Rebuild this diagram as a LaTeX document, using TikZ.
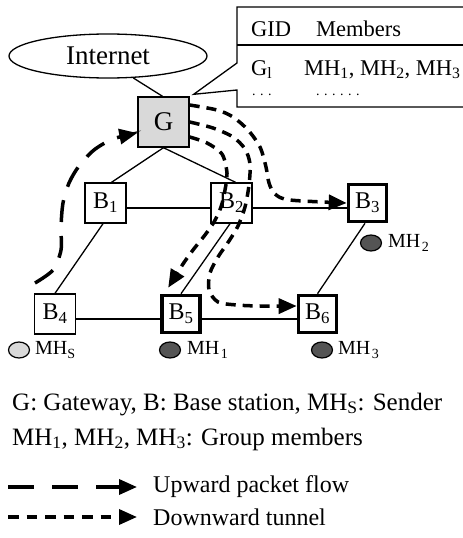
\documentclass[tikz,border=0pt]{standalone}
\usepackage{fontspec}
\setmainfont{Liberation Serif}
\usetikzlibrary{arrows.meta,shapes.geometric,calc}
\begin{document}
\begin{tikzpicture}[x=1pt,y=-1pt,
  bs/.style={draw,line width=1.4pt,minimum width=41pt,minimum height=40pt,inner sep=0pt,font=\fontsize{24}{24}\selectfont},
  bst/.style={bs,line width=3.6pt,minimum width=38pt,minimum height=37pt},
  link/.style={line width=1.3pt},
  upflow/.style={line width=3.5pt,dash pattern=on 22pt off 14pt,-{Triangle[length=18pt,width=15pt]}},
  tunnel/.style={line width=3.5pt,dash pattern=on 10pt off 7pt,-{Triangle[length=18pt,width=15pt]}},
  mh/.style={ellipse,draw,line width=1.2pt,minimum width=21pt,minimum height=16pt,inner sep=0pt},
  mhl/.style={anchor=west,inner sep=0pt,font=\fontsize{20}{20}\selectfont},
  tbl/.style={anchor=base west,inner sep=0pt,font=\fontsize{22.5}{22.5}\selectfont},
  tdots/.style={anchor=base west,inner sep=0pt,font=\fontsize{14}{14}\selectfont},
  leg/.style={anchor=base west,inner sep=0pt,font=\fontsize{25}{25}\selectfont},
  legi/.style={anchor=west,inner sep=0pt,font=\fontsize{24}{24}\selectfont}
]
\useasboundingbox (0,0) rectangle (463,538);
\clip (0,0) rectangle (463,538);

% Internet and gateway
\node[ellipse,draw,line width=1.3pt,minimum width=198pt,minimum height=44pt,inner sep=0pt,
      font=\fontsize{27}{27}\selectfont] (inet) at (108,56) {Internet};
\node[bs,fill=black!15,minimum width=51pt,minimum height=50pt,font=\fontsize{27}{27}\selectfont] (G) at (163.5,122) {G};

% base stations
\node[bs]  (B1) at (105.5,203) {B\textsubscript{1}};
\node[bs]  (B2) at (231.5,203) {B\textsubscript{2}};
\node[bst] (B3) at (367.5,203) {B\textsubscript{3}};
\node[bs]  (B4) at (55,314)    {B\textsubscript{4}};
\node[bst] (B5) at (181,314)   {B\textsubscript{5}};
\node[bst] (B6) at (317.5,314) {B\textsubscript{6}};

% links
\draw[link] (inet.-41) -- ([xshift=-1pt]G.north);
\draw[link] (G.south) -- ([xshift=6pt]B1.north);
\draw[link] (G.south) -- ([xshift=4pt]B2.north);
\draw[link] ([yshift=-5pt]B1.east) -- ([yshift=-5pt]B2.west);
\draw[link] ([yshift=-5pt]B2.east) -- ([yshift=-5pt]B3.west);
\draw[link] ([yshift=-5pt]B4.east) -- ([yshift=-5pt]B5.west);
\draw[link] ([yshift=-5pt]B5.east) -- ([yshift=-5pt]B6.west);
\draw[link] ([xshift=-2.5pt]B1.south) -- (B4.north);
\draw[link] ([xshift=-1.5pt]B2.south) -- (B5.north);
\draw[link] ([xshift=-2.5pt]B3.south) -- (B6.north);

% mobile hosts
\node[mh,fill=black!15] (mhs) at (19,350) {};
\node[mhl] (mhsl) at (35,350) {MH\textsubscript{S}};
\node[mh,fill=black!67] (mh1) at (170,350) {};
\node[mhl] (mh1l) at (187,350) {MH\kern1.5pt\textsubscript{1}};
\node[mh,fill=black!67] (mh2) at (371,243) {};
\node[mhl] (mh2l) at (388,243) {MH\kern1.5pt\textsubscript{2}};
\node[mh,fill=black!67] (mh3) at (322,350) {};
\node[mhl] (mh3l) at (338,350) {MH\kern1.5pt\textsubscript{3}};

% group table callout
\draw[link,fill=white] (470,7) -- (237,7) -- (237,63) -- ([shift={(4pt,2pt)}]G.north east) -- (237,90) -- (237,107) -- (470,107);
\draw[link] (237,45) -- (470,45);
\node[tbl] (tgid) at (251,36) {GID};
\node[tbl] (tmem) at (316,36) {Members};
\node[tbl] (tg1)  at (251,75) {G\textsubscript{l}};
\node[tbl] (tmh)  at (304,75) {MH\textsubscript{1}, MH\textsubscript{2}, MH\textsubscript{3}};
\node[tdots] (td1) at (252,95) {.\kern4.5pt.\kern4.5pt.};
\node[tdots] (td2) at (316,95) {.\kern4.5pt.\kern4.5pt.\kern4.5pt.\kern4.5pt.\kern4.5pt.};

% upward packet flow
\coordinate (upstart) at (35,283);
\draw[upflow] plot[smooth] coordinates {(upstart) (53,270) (61,250) (61,227) (63,203) (69,183) (79,166) (94,150) (113,139) ([yshift=-11pt]G.west)};

% downward tunnels
\draw[tunnel] plot[smooth] coordinates {([yshift=17pt]G.east) (217,110) (233,117) (248,130) (260,147) (266,167) (269,183) (275,194) (290,200) (B3.west)};
\draw[tunnel] plot[smooth] coordinates {(G.east) (213,128) (233,137) (245,149) (250,164) (249,185) (245,207) (238,226) (229,241) (218,257) (210,273) (209,290) (218,302) (237,305) (260,306) ([yshift=8pt]B6.west)};
\draw[tunnel] plot[smooth] coordinates {([yshift=-15pt]G.east) (207,143) (222,154) (227,173) (225,190) (221,207) (214,222) (205,235) (193,250) (183,264) ([shift={(8pt,6pt)}]B5.north west)};

% legend
\node[leg] (l1) at (12,410) {G: Gateway, B: Base station, MH\textsubscript{S}: Sender};
\node[leg] (l2) at (12,445) {MH\textsubscript{1}, MH\textsubscript{2}, MH\textsubscript{3}: Group members};
\coordinate (u0) at (8,487);
\coordinate (u1) at (137,487);
\draw[upflow,dash pattern=on 26pt off 18pt] (u0) -- (u1);
\node[legi] (lu) at (153,487) {Upward packet flow};
\coordinate (d0) at (8,517);
\coordinate (d1) at (137,517);
\draw[tunnel,dash pattern=on 10.5pt off 8pt] (d0) -- (d1);
\node[legi] (ld) at (153,517) {Downward tunnel};
\end{tikzpicture}
\end{document}
